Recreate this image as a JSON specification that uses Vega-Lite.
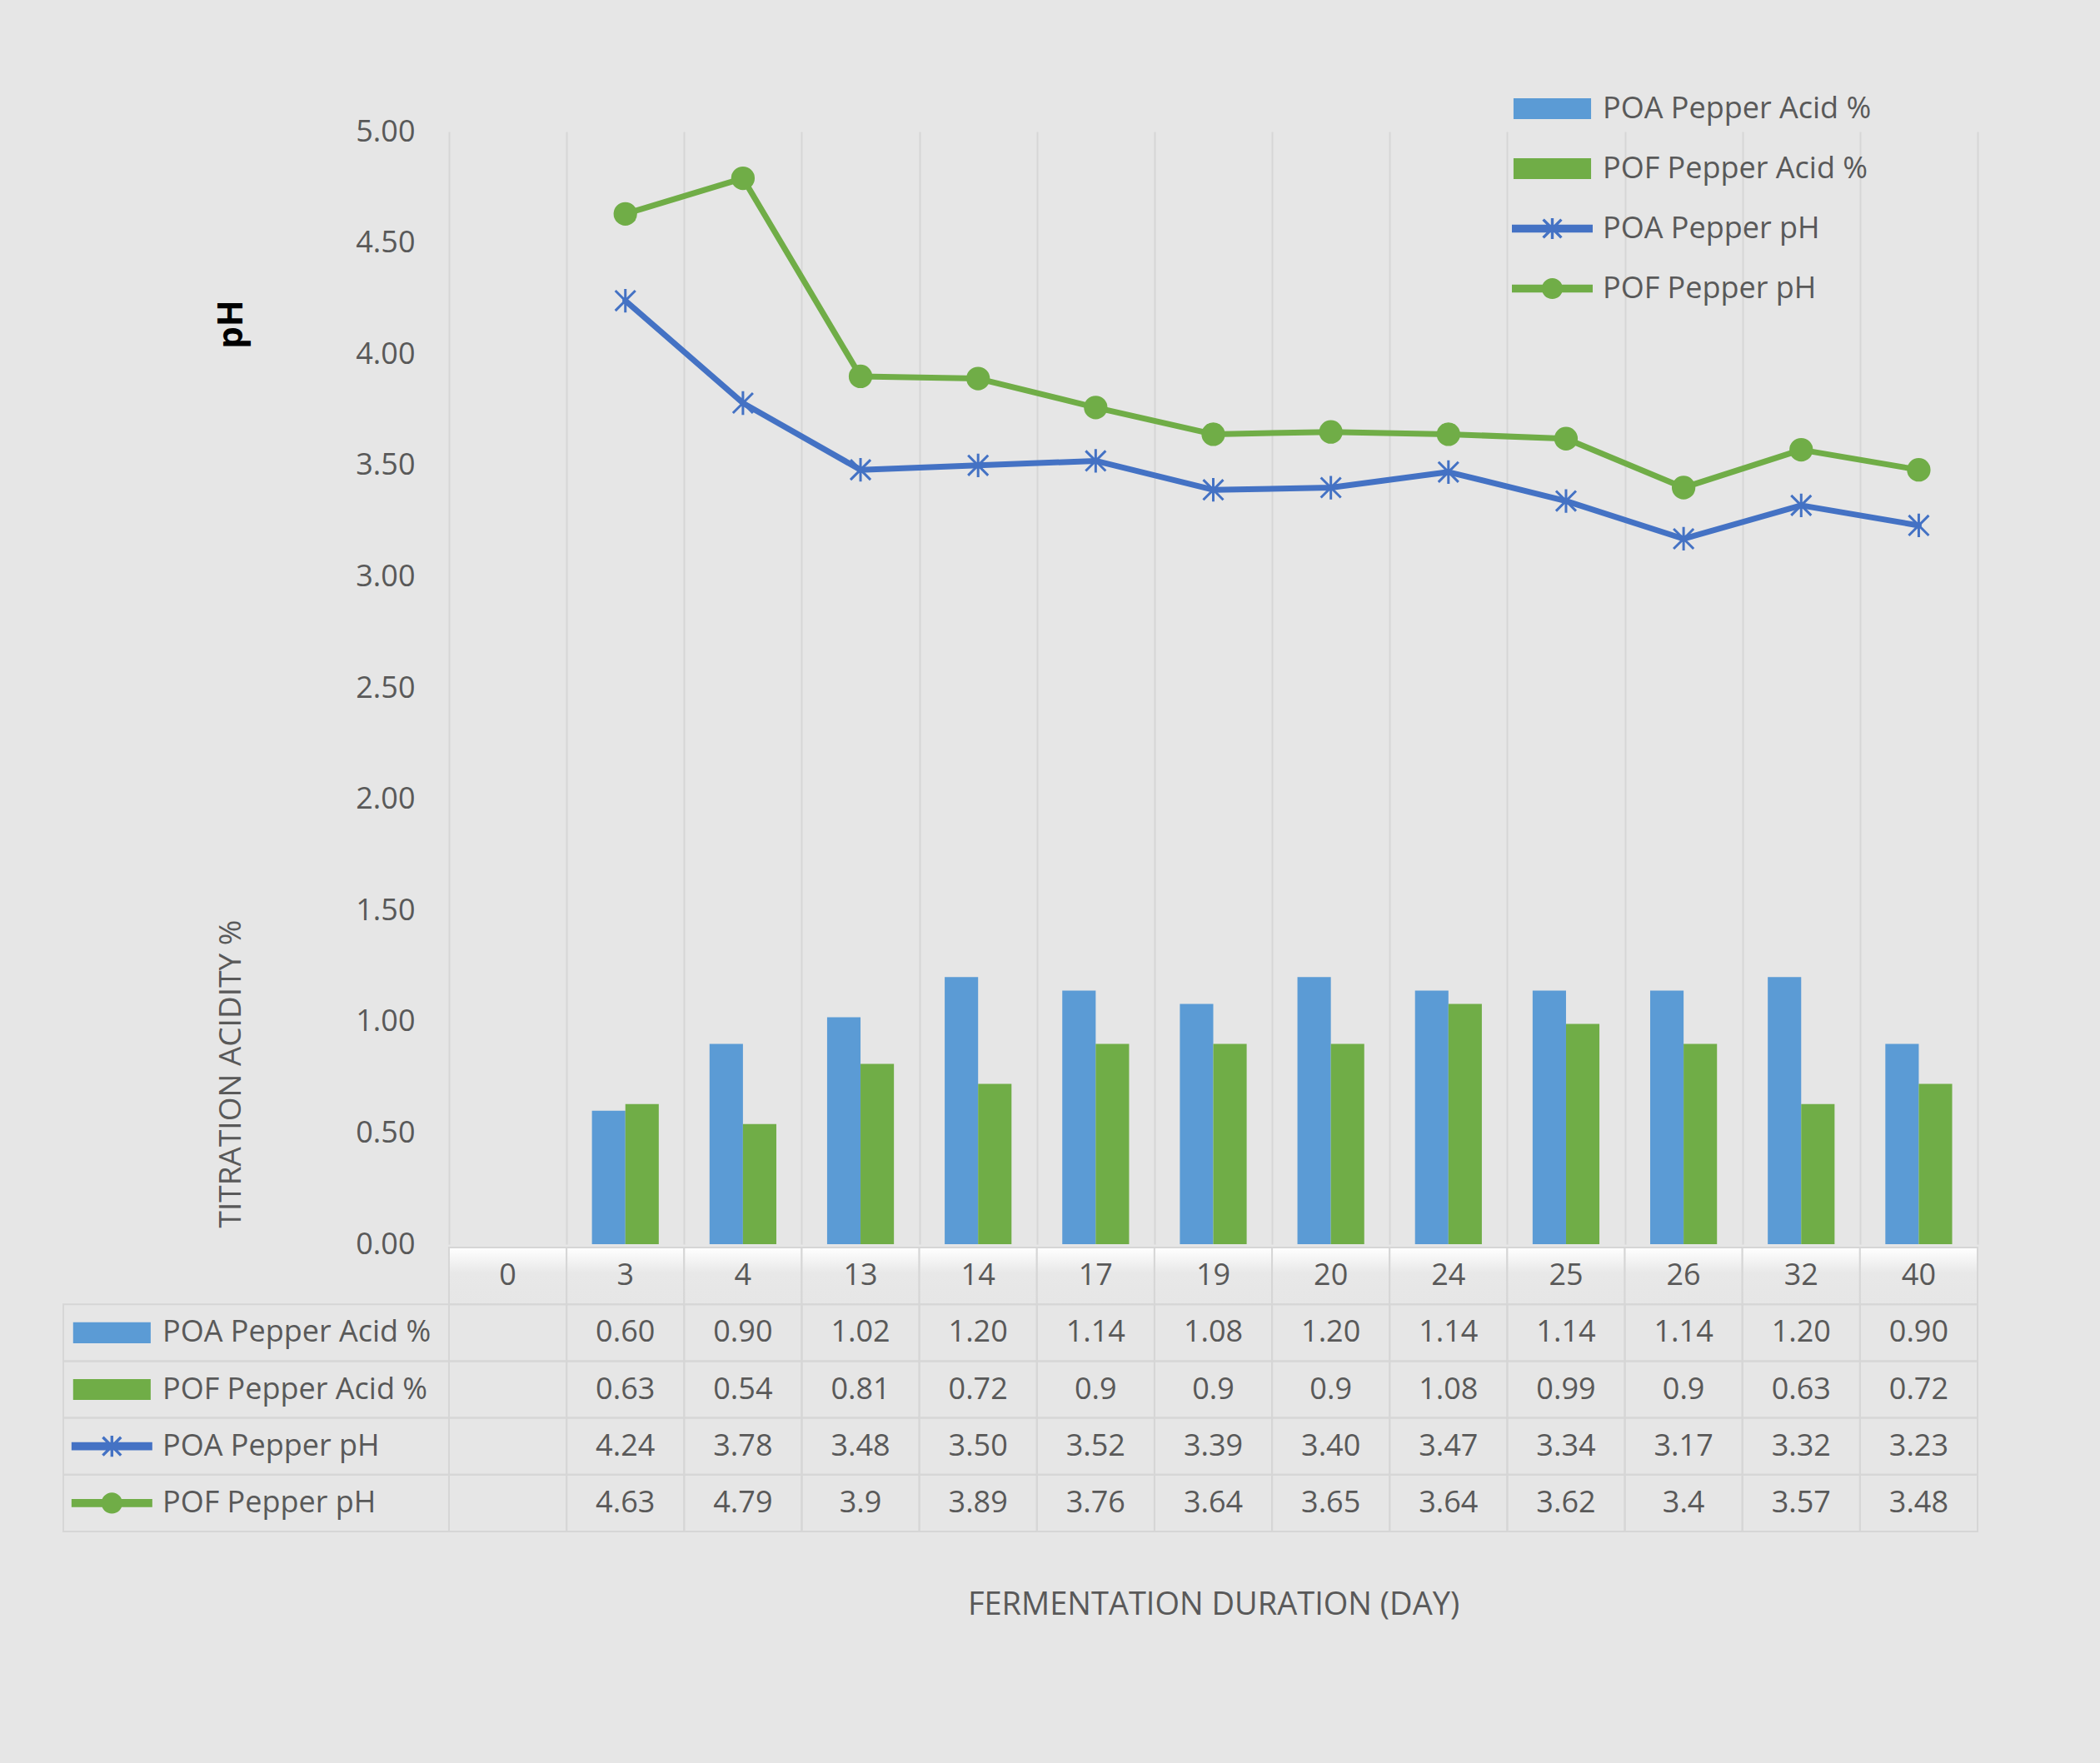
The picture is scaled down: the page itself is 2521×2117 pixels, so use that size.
{
  "$schema": "https://vega.github.io/schema/vega-lite/v6.json",
  "width": 1835,
  "height": 1336,
  "autosize": "none",
  "padding": {"left": 539, "top": 158, "right": 147, "bottom": 623},
  "background": "#e6e6e6",
  "config": {
    "font": "Open Sans",
    "view": {"stroke": null},
    "text": {"fontSize": 36, "color": "#595959"}
  },
  "datasets": {
    "days": [
      {"day": "0"}, {"day": "3"}, {"day": "4"}, {"day": "13"}, {"day": "14"}, {"day": "17"}, {"day": "19"},
      {"day": "20"}, {"day": "24"}, {"day": "25"}, {"day": "26"}, {"day": "32"}, {"day": "40"}
    ],
    "series": [
      {"series": "POA Pepper Acid %"}, {"series": "POF Pepper Acid %"},
      {"series": "POA Pepper pH"}, {"series": "POF Pepper pH"}
    ],
    "vals": [
      {"day": "0", "series": "POA Pepper Acid %", "value": null},
      {"day": "3", "series": "POA Pepper Acid %", "value": 0.60},
      {"day": "4", "series": "POA Pepper Acid %", "value": 0.90},
      {"day": "13", "series": "POA Pepper Acid %", "value": 1.02},
      {"day": "14", "series": "POA Pepper Acid %", "value": 1.20},
      {"day": "17", "series": "POA Pepper Acid %", "value": 1.14},
      {"day": "19", "series": "POA Pepper Acid %", "value": 1.08},
      {"day": "20", "series": "POA Pepper Acid %", "value": 1.20},
      {"day": "24", "series": "POA Pepper Acid %", "value": 1.14},
      {"day": "25", "series": "POA Pepper Acid %", "value": 1.14},
      {"day": "26", "series": "POA Pepper Acid %", "value": 1.14},
      {"day": "32", "series": "POA Pepper Acid %", "value": 1.20},
      {"day": "40", "series": "POA Pepper Acid %", "value": 0.90},
      {"day": "0", "series": "POF Pepper Acid %", "value": null},
      {"day": "3", "series": "POF Pepper Acid %", "value": 0.63},
      {"day": "4", "series": "POF Pepper Acid %", "value": 0.54},
      {"day": "13", "series": "POF Pepper Acid %", "value": 0.81},
      {"day": "14", "series": "POF Pepper Acid %", "value": 0.72},
      {"day": "17", "series": "POF Pepper Acid %", "value": 0.9},
      {"day": "19", "series": "POF Pepper Acid %", "value": 0.9},
      {"day": "20", "series": "POF Pepper Acid %", "value": 0.9},
      {"day": "24", "series": "POF Pepper Acid %", "value": 1.08},
      {"day": "25", "series": "POF Pepper Acid %", "value": 0.99},
      {"day": "26", "series": "POF Pepper Acid %", "value": 0.9},
      {"day": "32", "series": "POF Pepper Acid %", "value": 0.63},
      {"day": "40", "series": "POF Pepper Acid %", "value": 0.72},
      {"day": "0", "series": "POA Pepper pH", "value": null},
      {"day": "3", "series": "POA Pepper pH", "value": 4.24},
      {"day": "4", "series": "POA Pepper pH", "value": 3.78},
      {"day": "13", "series": "POA Pepper pH", "value": 3.48},
      {"day": "14", "series": "POA Pepper pH", "value": 3.50},
      {"day": "17", "series": "POA Pepper pH", "value": 3.52},
      {"day": "19", "series": "POA Pepper pH", "value": 3.39},
      {"day": "20", "series": "POA Pepper pH", "value": 3.40},
      {"day": "24", "series": "POA Pepper pH", "value": 3.47},
      {"day": "25", "series": "POA Pepper pH", "value": 3.34},
      {"day": "26", "series": "POA Pepper pH", "value": 3.17},
      {"day": "32", "series": "POA Pepper pH", "value": 3.32},
      {"day": "40", "series": "POA Pepper pH", "value": 3.23},
      {"day": "0", "series": "POF Pepper pH", "value": null},
      {"day": "3", "series": "POF Pepper pH", "value": 4.63},
      {"day": "4", "series": "POF Pepper pH", "value": 4.79},
      {"day": "13", "series": "POF Pepper pH", "value": 3.9},
      {"day": "14", "series": "POF Pepper pH", "value": 3.89},
      {"day": "17", "series": "POF Pepper pH", "value": 3.76},
      {"day": "19", "series": "POF Pepper pH", "value": 3.64},
      {"day": "20", "series": "POF Pepper pH", "value": 3.65},
      {"day": "24", "series": "POF Pepper pH", "value": 3.64},
      {"day": "25", "series": "POF Pepper pH", "value": 3.62},
      {"day": "26", "series": "POF Pepper pH", "value": 3.4},
      {"day": "32", "series": "POF Pepper pH", "value": 3.57},
      {"day": "40", "series": "POF Pepper pH", "value": 3.48}
    ]
  },
  "layer": [
    {
      "layer": [
        {
          "data": {"name": "vals"},
          "transform": [{"filter": {"field": "series", "oneOf": ["POA Pepper Acid %", "POF Pepper Acid %"]}}],
          "mark": {"type": "bar"},
          "encoding": {
            "x": {
              "field": "day", "type": "nominal", "sort": null,
              "scale": {"domain": ["0", "3", "4", "13", "14", "17", "19", "20", "24", "25", "26", "32", "40"], "paddingInner": 0, "paddingOuter": 0},
              "axis": {
                "labels": false, "ticks": false, "domain": false,
                "grid": true, "tickBand": "extent", "gridColor": "#d6d6d6", "gridWidth": 2,
                "title": "FERMENTATION DURATION (DAY)", "titleFontSize": 38, "titleFontWeight": "normal",
                "titleColor": "#595959", "titleY": 433, "titleBaseline": "middle"
              }
            },
            "xOffset": {
              "field": "series", "type": "nominal",
              "scale": {"domain": ["POA Pepper Acid %", "POF Pepper Acid %"], "paddingInner": 0, "paddingOuter": 0.76}
            },
            "y": {
              "field": "value", "type": "quantitative",
              "scale": {"domain": [0, 5], "nice": false},
              "axis": {
                "orient": "left", "labels": false, "ticks": false, "domain": false, "grid": false,
                "title": "TITRATION ACIDITY %", "titleFontSize": 37, "titleFontWeight": "normal",
                "titleColor": "#595959", "titleX": -262, "titleY": 1131, "titleAngle": -90,
                "titleAlign": "center", "titleBaseline": "middle"
              }
            },
            "color": {
              "field": "series", "type": "nominal",
              "scale": {
                "domain": ["POA Pepper Acid %", "POF Pepper Acid %", "POA Pepper pH", "POF Pepper pH"],
                "range": ["#5b9bd5", "#70ad47", "#4472c4", "#70ad47"]
              }
            }
          }
        },
        {
          "data": {"name": "vals"},
          "transform": [{"filter": {"field": "series", "oneOf": ["POA Pepper pH", "POF Pepper pH"]}}],
          "mark": {"type": "line", "strokeWidth": 7, "strokeJoin": "round", "strokeCap": "round"},
          "encoding": {
            "x": {"field": "day", "type": "nominal", "sort": null},
            "y": {
              "field": "value", "type": "quantitative",
              "axis": {
                "orient": "left", "ticks": false, "domain": false, "grid": false,
                "values": [0, 0.5, 1, 1.5, 2, 2.5, 3, 3.5, 4, 4.5, 5], "format": ".2f",
                "labelFontSize": 36, "labelColor": "#595959", "labelPadding": 41,
                "title": "pH", "titleFontSize": 42, "titleFontWeight": "bold", "titleColor": "#000000",
                "titleX": -262, "titleY": 231, "titleAngle": -90, "titleAlign": "center", "titleBaseline": "middle"
              }
            },
            "color": {"field": "series", "type": "nominal"}
          }
        },
        {
          "data": {"name": "vals"},
          "transform": [{"filter": {"field": "series", "equal": "POA Pepper pH"}}],
          "mark": {
            "type": "point", "filled": false, "opacity": 1, "size": 800, "strokeWidth": 3,
            "shape": "M0,-1L0,1M-0.85,-0.85L0.85,0.85M-0.85,0.85L0.85,-0.85"
          },
          "encoding": {
            "x": {"field": "day", "type": "nominal", "sort": null},
            "y": {"field": "value", "type": "quantitative", "axis": null},
            "color": {"field": "series", "type": "nominal"}
          }
        },
        {
          "data": {"name": "vals"},
          "transform": [{"filter": {"field": "series", "equal": "POF Pepper pH"}}],
          "mark": {"type": "point", "filled": true, "opacity": 1, "size": 800, "shape": "circle"},
          "encoding": {
            "x": {"field": "day", "type": "nominal", "sort": null},
            "y": {"field": "value", "type": "quantitative", "axis": null},
            "color": {"field": "series", "type": "nominal"}
          }
        }
      ],
      "resolve": {"axis": {"y": "independent"}}
    },
    {
      "layer": [
        {
          "data": {"name": "days"},
          "mark": {
            "type": "rect", "stroke": "#d6d6d6", "strokeWidth": 2,
            "fill": {
              "gradient": "linear", "x1": 0, "y1": 0, "x2": 0, "y2": 1,
              "stops": [
                {"offset": 0, "color": "#ffffff"},
                {"offset": 0.45, "color": "#e8e8e8"},
                {"offset": 1, "color": "#e6e6e6"}
              ]
            }
          },
          "encoding": {
            "x": {
              "field": "day", "type": "nominal", "sort": null,
              "scale": {"domain": ["0", "3", "4", "13", "14", "17", "19", "20", "24", "25", "26", "32", "40"], "paddingInner": 0, "paddingOuter": 0},
              "axis": null
            },
            "y": {
              "datum": "days", "type": "nominal",
              "scale": {
                "domain": ["days", "POA Pepper Acid %", "POF Pepper Acid %", "POA Pepper pH", "POF Pepper pH"],
                "range": [1340, 1681], "paddingInner": 0, "paddingOuter": 0
              },
              "axis": null
            }
          }
        },
        {
          "data": {"name": "vals"},
          "mark": {"type": "rect", "fill": "transparent", "stroke": "#d6d6d6", "strokeWidth": 2},
          "encoding": {
            "x": {"field": "day", "type": "nominal", "sort": null, "axis": null},
            "y": {"field": "series", "type": "nominal", "axis": null}
          }
        },
        {
          "data": {"name": "days"},
          "mark": {"type": "text", "baseline": "middle", "align": "center"},
          "encoding": {
            "x": {"field": "day", "type": "nominal", "sort": null, "axis": null},
            "y": {"datum": "days", "type": "nominal", "axis": null},
            "text": {"field": "day", "type": "nominal"}
          }
        },
        {
          "data": {"name": "vals"},
          "transform": [{"filter": "isValid(datum.value)"}],
          "mark": {"type": "text", "baseline": "middle", "align": "center"},
          "encoding": {
            "x": {"field": "day", "type": "nominal", "sort": null, "axis": null},
            "y": {"field": "series", "type": "nominal", "axis": null},
            "text": {
              "condition": {
                "test": "datum.series === 'POA Pepper Acid %' || datum.series === 'POA Pepper pH'",
                "field": "value", "type": "quantitative", "format": ".2f"
              },
              "field": "value", "type": "quantitative"
            }
          }
        }
      ]
    },
    {
      "layer": [
        {
          "data": {"name": "series"},
          "mark": {"type": "rect", "fill": "transparent", "stroke": "#d6d6d6", "strokeWidth": 2},
          "encoding": {
            "x": {
              "datum": "series name", "type": "nominal",
              "scale": {"domain": ["series name"], "range": [-463, 0], "paddingInner": 0, "paddingOuter": 0},
              "axis": null
            },
            "y": {
              "field": "series", "type": "nominal",
              "scale": {
                "domain": ["days", "POA Pepper Acid %", "POF Pepper Acid %", "POA Pepper pH", "POF Pepper pH"],
                "range": [1340, 1681], "paddingInner": 0, "paddingOuter": 0
              },
              "axis": null
            }
          }
        },
        {
          "data": {"name": "series"},
          "mark": {"type": "point", "filled": true, "opacity": 1, "size": 2352, "strokeWidth": 0},
          "encoding": {
            "x": {"datum": "series name", "type": "nominal", "bandPosition": 0.126, "axis": null},
            "y": {"field": "series", "type": "nominal", "axis": null},
            "color": {
              "field": "series", "type": "nominal",
              "legend": {
                "orient": "none", "legendX": 1300, "legendY": -52, "title": null, "padding": 0,
                "symbolSize": 2352, "symbolStrokeWidth": 0, "labelFontSize": 36, "labelColor": "#595959",
                "labelLimit": 800, "labelOffset": 36, "rowPadding": 29
              }
            },
            "shape": {
              "field": "series", "type": "nominal",
              "scale": {
                "domain": ["POA Pepper Acid %", "POF Pepper Acid %", "POA Pepper pH", "POF Pepper pH"],
                "range": [
                  "M-1.92,-0.52H1.92V0.52H-1.92Z",
                  "M-1.92,-0.52H1.92V0.52H-1.92Z",
                  "M-2,-0.2H2V0.2H-2Z M-0.07,-0.52H0.07V0.52H-0.07Z M-0.4,-0.5L0.5,0.4L0.4,0.5L-0.5,-0.4Z M-0.5,0.4L0.4,-0.5L0.5,-0.4L-0.4,0.5Z",
                  "M-2,-0.2H2V0.2H-2Z M-0.52,0A0.52,0.52 0 1,1 0.52,0A0.52,0.52 0 1,1 -0.52,0Z"
                ]
              },
              "legend": {
                "orient": "none", "legendX": 1300, "legendY": -52, "title": null, "padding": 0,
                "symbolSize": 2352, "symbolStrokeWidth": 0, "labelFontSize": 36, "labelColor": "#595959",
                "labelLimit": 800, "labelOffset": 36, "rowPadding": 29
              }
            }
          }
        },
        {
          "data": {"name": "series"},
          "mark": {"type": "text", "align": "left", "baseline": "middle"},
          "encoding": {
            "x": {"datum": "series name", "type": "nominal", "bandPosition": 0.257, "axis": null},
            "y": {"field": "series", "type": "nominal", "axis": null},
            "text": {"field": "series", "type": "nominal"}
          }
        }
      ]
    }
  ],
  "resolve": {"scale": {"x": "independent", "y": "independent"}}
}
